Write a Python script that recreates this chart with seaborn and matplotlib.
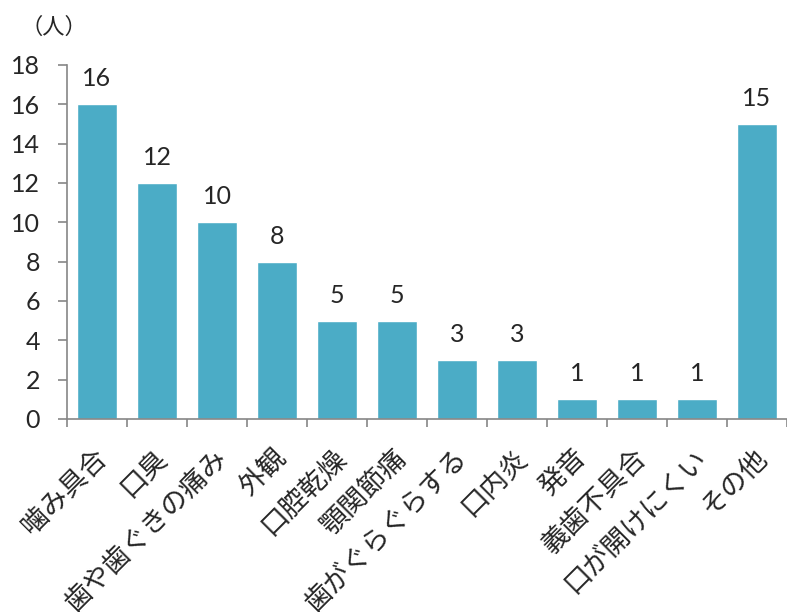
import matplotlib
matplotlib.use("Agg")
import matplotlib.pyplot as plt
import seaborn as sns
import pandas as pd

categories = ["噛み具合", "口臭", "歯や歯ぐきの痛み", "外観", "口腔乾燥", "顎関節痛",
              "歯がぐらぐらする", "口内炎", "発音", "義歯不具合", "口が開けにくい", "その他"]
counts = [16, 12, 10, 8, 5, 5, 3, 3, 1, 1, 1, 15]
y_ticks = [0, 2, 4, 6, 8, 10, 12, 14, 16, 18]
unit_label = "（人）"

sns.set_theme(style="white")
plt.rcParams["font.family"] = ["Noto Sans CJK JP", "DejaVu Sans"]
num_font = ["Lato", "Noto Sans CJK JP", "DejaVu Sans"]

df = pd.DataFrame({"category": categories, "count": counts})

fig = plt.figure(figsize=(7.87, 6.12), dpi=100)
ax = fig.add_axes([67 / 787, 1 - 419 / 612, 1 - 67 / 787, (419 - 65) / 612])

sns.barplot(data=df, x="category", y="count", color="#4BACC6", saturation=1,
            width=0.667, ax=ax)

ax.set_ylim(0, 18)
ax.set_xlim(-0.5, len(categories) - 0.5)
ax.set_yticks(y_ticks)
ax.set_yticklabels([str(v) for v in y_ticks], fontsize=18, family=num_font)
ax.set_xlabel("")
ax.set_ylabel("")

# category ticks sit on the boundaries between bars
ax.set_xticks([i - 0.5 for i in range(len(categories) + 1)])
ax.set_xticklabels([])
ax.tick_params(axis="x", direction="out", length=6, width=1.2,
               color="#868686", bottom=True)
ax.tick_params(axis="y", direction="out", length=6.5, width=1.2, color="#868686",
               left=True, pad=13)

for i, name in enumerate(categories):
    ax.annotate(name, xy=(i + 0.1, 0), xycoords=("data", "axes fraction"),
                xytext=(0, -25), textcoords="offset points",
                rotation=45, ha="right", va="center", rotation_mode="anchor",
                fontsize=19.5)

for i, v in enumerate(counts):
    ax.annotate(str(v), xy=(i, v), xytext=(0, 10), textcoords="offset points",
                ha="center", va="bottom", fontsize=18, family=num_font)

for side in ["top", "right"]:
    ax.spines[side].set_visible(False)
for side in ["left", "bottom"]:
    ax.spines[side].set_color("#868686")
    ax.spines[side].set_linewidth(1.2)

fig.text(20 / 787, 1 - 27 / 612, unit_label, fontsize=16, va="center", ha="left")

fig.savefig("out.png", dpi=100)
